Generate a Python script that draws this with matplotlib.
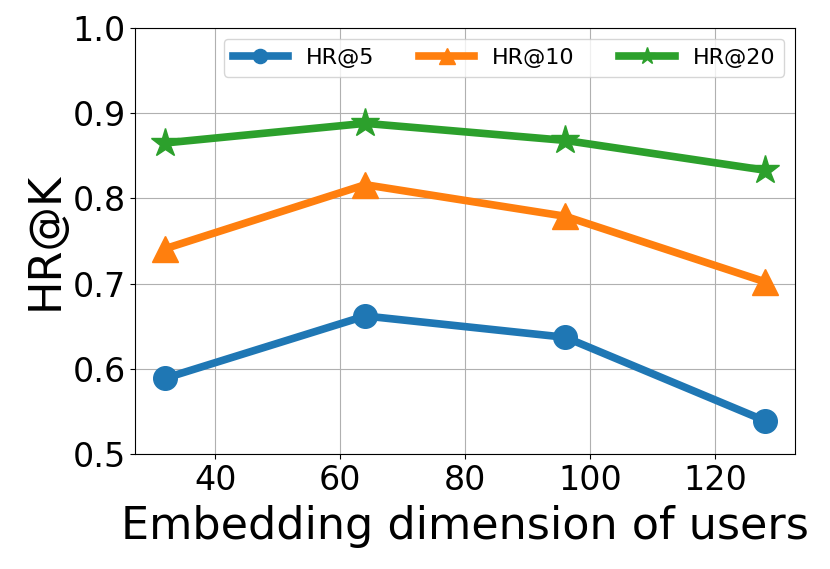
import matplotlib
matplotlib.use('Agg')
import matplotlib.pyplot as plt

dims = [32, 64, 96, 128]
hr5 = [0.589, 0.662, 0.637, 0.539]
hr10 = [0.741, 0.816, 0.779, 0.702]
hr20 = [0.865, 0.888, 0.868, 0.833]

fig, ax = plt.subplots(figsize=(8.3, 5.69), dpi=100)
ax.plot(dims, hr5, marker='o', lw=5.5, ms=17, label='HR@5')
ax.plot(dims, hr10, marker='^', lw=5.5, ms=19, label='HR@10')
ax.plot(dims, hr20, marker='*', lw=5.5, ms=21, label='HR@20')

ax.set_ylim(0.5, 1.0)
ax.set_xticks([40, 60, 80, 100, 120])
ax.grid(True)
ax.tick_params(labelsize=24)
ax.set_xlabel('Embedding dimension of users', fontsize=32, labelpad=6)
ax.set_ylabel('HR@K', fontsize=32)
ax.legend(ncol=3, loc='upper right', fontsize=16, markerscale=0.6,
          handlelength=2.5)

fig.subplots_adjust(left=0.163, right=0.958, top=0.951, bottom=0.202)
plt.savefig('out.png')
